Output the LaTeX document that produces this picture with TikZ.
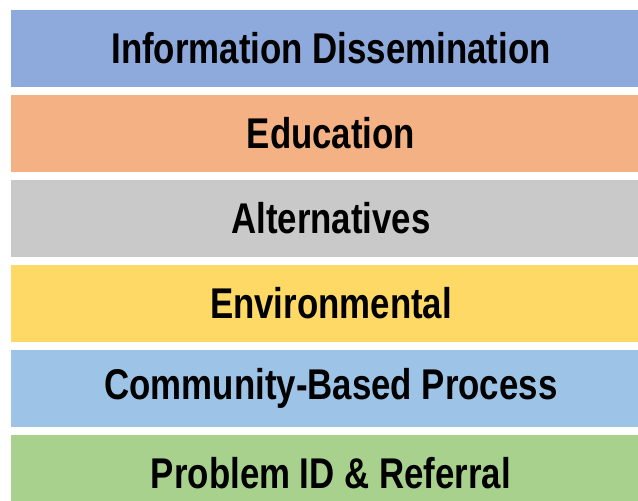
\documentclass[tikz,border=0pt]{standalone}
\usepackage{fontspec}
\newfontfamily\layerfont[FakeStretch=0.81]{Liberation Sans}
\usetikzlibrary{positioning}
\definecolor{infoblue}{HTML}{8EA9DB}
\definecolor{eduorange}{HTML}{F4B183}
\definecolor{altgray}{HTML}{C9C9C9}
\definecolor{envyellow}{HTML}{FFD966}
\definecolor{commblue}{HTML}{9DC3E6}
\definecolor{probgreen}{HTML}{A9D18E}

\begin{document}
\begin{tikzpicture}[x=1pt,y=-1pt,node distance=7.6pt]
\tikzstyle{layer}=[rectangle,inner sep=0pt,minimum width=640pt,minimum height=77pt,
  font=\layerfont\bfseries\fontsize{43}{50}\selectfont,text=black]

\useasboundingbox (0,0) rectangle (638,501);
\clip (0,0) rectangle (638,501);

\node[layer,fill=infoblue] (info) at (331,48.5) {Information Dissemination};
\node[layer,fill=eduorange] (edu) [below=of info] {Education};
\node[layer,fill=altgray] (alt) [below=of edu] {Alternatives};
\node[layer,fill=envyellow] (env) [below=of alt] {Environmental};
\node[layer,fill=commblue] (comm) [below=of env] {Community-Based Process};
\node[layer,fill=probgreen] (prob) [below=of comm] {Problem ID \& Referral};
\end{tikzpicture}
\end{document}
